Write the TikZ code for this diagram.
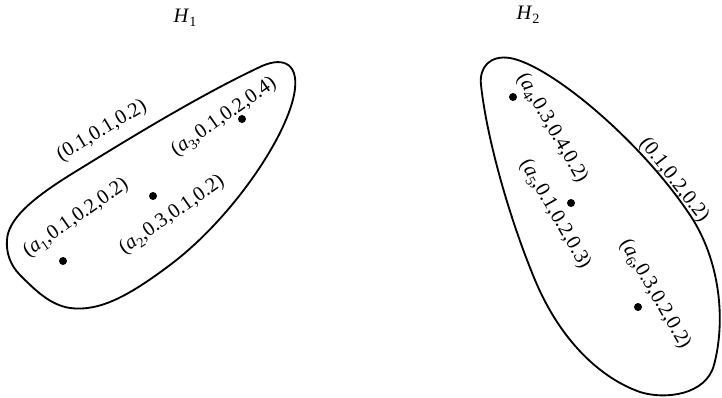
\documentclass[tikz,border=0pt]{standalone}
\usepackage{fontspec}
\setmainfont{Liberation Serif}
\newcommand{\elem}[2]{(\textit{a}\raisebox{-0.45ex}{\fontsize{8.5}{10}\selectfont #1},#2)}

\begin{document}
\begin{tikzpicture}[x=0.6pt, y=-0.6pt,
    vertex/.style={circle, fill=black, inner sep=0pt, minimum size=4.8pt},
    tag/.style={inner sep=0pt, font=\fontsize{12.3}{14}\selectfont},
    hedge/.style={line width=1.1pt, line join=round}]
  \useasboundingbox (0,0) rectangle (722,398);

  % hyperedge H1
  \node[tag] (h1) at (185,18) {\textit{H}\raisebox{-0.45ex}{\fontsize{8.5}{10}\selectfont 1}};
  \draw[hedge] (7,240) .. controls (8,220) and (30,200) .. (70,175)
      .. controls (130,138) and (200,95) .. (262,66)
      .. controls (285,56) and (300,65) .. (294,95)
      .. controls (285,140) and (230,220) .. (170,265)
      .. controls (130,295) and (100,312) .. (70,308)
      .. controls (50,305) and (35,290) .. (20,275)
      .. controls (10,265) and (6,252) .. cycle;
  \node[vertex] (a1) at (63,261) {};
  \node[vertex] (a2) at (153,196) {};
  \node[vertex] (a3) at (242,119) {};
  \node[tag, rotate=31] (w1) at (102,131) {(0.1,0.1,0.2)};
  \node[tag, rotate=35] (l1) at (76,218) {\elem{1}{0.1,0.2,0.2}};
  \node[tag, rotate=35] (l2) at (172,215) {\elem{2}{0.3,0.1,0.2}};
  \node[tag, rotate=35] (l3) at (224,117) {\elem{3}{0.1,0.2,0.4}};

  % hyperedge H2
  \node[tag] (h2) at (528,15) {\textit{H}\raisebox{-0.45ex}{\fontsize{8.5}{10}\selectfont 2}};
  \draw[hedge] (481,85) .. controls (479,67) and (490,55) .. (510,58)
      .. controls (550,65) and (640,140) .. (690,215)
      .. controls (720,260) and (726,320) .. (714,365)
      .. controls (706,395) and (665,400) .. (640,392)
      .. controls (600,378) and (560,340) .. (535,280)
      .. controls (510,220) and (487,140) .. cycle;
  \node[vertex] (a4) at (513,97) {};
  \node[vertex] (a5) at (571,203) {};
  \node[vertex] (a6) at (638,307) {};
  \node[tag, rotate=-52] (w2) at (674,180) {(0.1,0.2,0.2)};
  \node[tag, rotate=-60] (l4) at (552,128) {\elem{4}{0.3,0.4,0.2}};
  \node[tag, rotate=-60] (l5) at (555,214) {\elem{5}{0.1,0.2,0.3}};
  \node[tag, rotate=-60] (l6) at (655,294) {\elem{6}{0.3,0.2,0.2}};
\end{tikzpicture}
\end{document}
